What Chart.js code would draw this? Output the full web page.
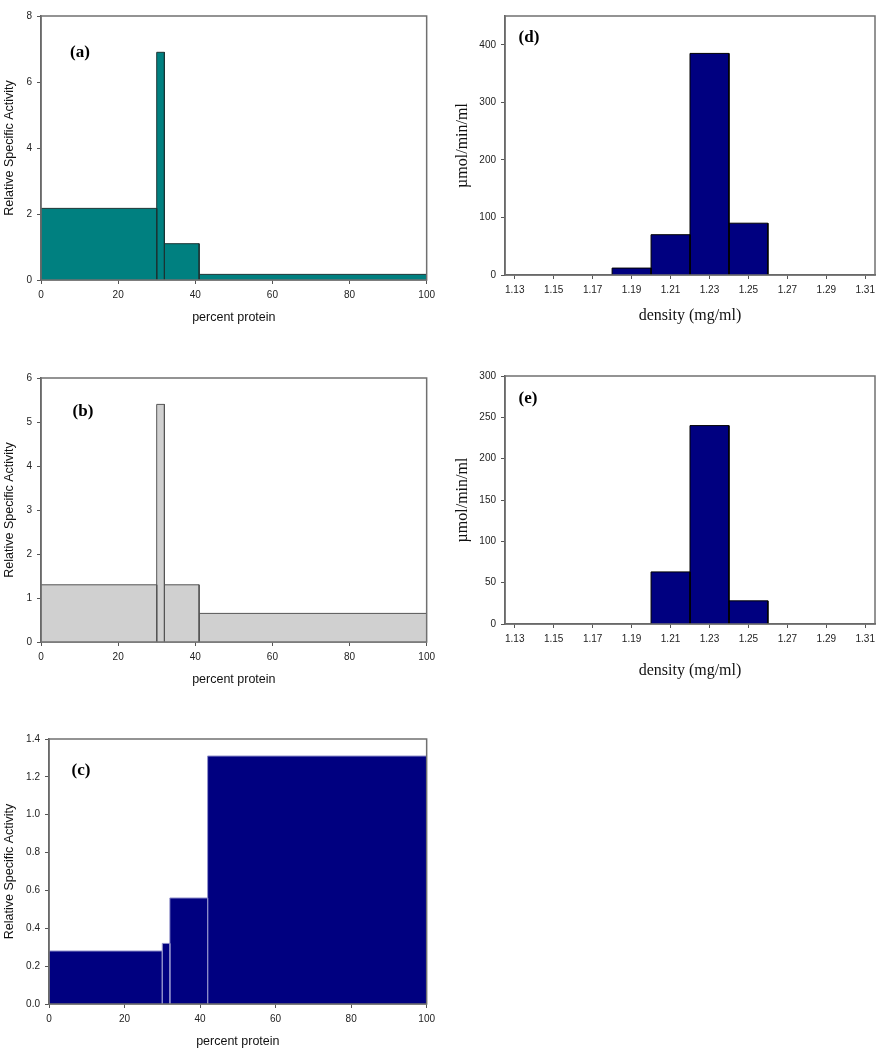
<!DOCTYPE html>
<html>
<head>
<meta charset="utf-8">
<script src="https://cdn.jsdelivr.net/npm/chart.js@4/dist/chart.umd.min.js"></script>
<style>
  body { margin: 0; background: #fff; }
  #page { position: relative; width: 883px; height: 1050px; }
  canvas { position: absolute; }
</style>
</head>
<body>
<div id="page">
  <canvas id="chartA" style="left:0;top:0"></canvas>
  <canvas id="chartB" style="left:0;top:330px"></canvas>
  <canvas id="chartC" style="left:0;top:690px"></canvas>
  <canvas id="chartD" style="left:440px;top:0"></canvas>
  <canvas id="chartE" style="left:440px;top:330px"></canvas>
</div>
<script>
// bin edges (percent protein) and relative specific activity
var edgesA = [0, 30, 32, 41, 100];
var activityA = [2.17, 6.9, 1.1, 0.17];
var edgesB = [0, 30, 32, 41, 100];
var activityB = [1.3, 5.4, 1.3, 0.65];
var edgesC = [0, 30, 32, 42, 100];
var activityC = [0.28, 0.32, 0.56, 1.31];

// density bins (mg/ml) and activity (umol/min/ml)
var densityEdgesD = [1.18, 1.20, 1.22, 1.24, 1.26];
var activityD = [12, 70, 385, 90];
var densityEdgesE = [1.20, 1.22, 1.24, 1.26];
var activityE = [63, 240, 28];
var densityTicks = [1.13, 1.15, 1.17, 1.19, 1.21, 1.23, 1.25, 1.27, 1.29, 1.31];

var sans = "'Liberation Sans', Arial, sans-serif";
var serif = "'Liberation Serif', 'Times New Roman', serif";

// one filled rectangle per bin, drawn as a closed line through the scales
function binDatasets(edges, values, fillColor, lineColor) {
    var sets = [];
    for (var i = 0; i < values.length; i++) {
        sets.push({
            data: [
                {x: edges[i], y: 0}, {x: edges[i], y: values[i]},
                {x: edges[i + 1], y: values[i]}, {x: edges[i + 1], y: 0}
            ],
            showLine: true,
            fill: 'origin',
            backgroundColor: fillColor,
            borderColor: lineColor,
            borderWidth: 1,
            pointRadius: 0,
            tension: 0
        });
    }
    return sets;
}

var framePlugin = {
    id: 'frame',
    afterDatasetsDraw: function(chart) {
        var a = chart.chartArea, ctx = chart.ctx;
        ctx.save();
        ctx.strokeStyle = '#707070';
        ctx.lineWidth = 1.5;
        ctx.strokeRect(a.left, a.top, a.right - a.left, a.bottom - a.top);
        var p = chart.options.plugins.panelLabel;
        ctx.fillStyle = '#000';
        ctx.font = 'bold 17px ' + serif;
        ctx.textAlign = 'center';
        ctx.textBaseline = 'middle';
        ctx.fillText(p.text, a.left + p.dx, a.top + p.dy);
        ctx.restore();
    }
};

function axisStyle() {
    return {
        grid: { drawOnChartArea: false, drawTicks: true, tickLength: 4, color: '#555' },
        border: { display: true, color: '#555', width: 1.5 }
    };
}

function makePanel(id, w, h, cfg) {
    var canvas = document.getElementById(id);
    canvas.style.width = w + 'px';
    canvas.style.height = h + 'px';
    canvas.width = w;
    canvas.height = h;
    var xs = axisStyle(), ys = axisStyle();
    xs.type = 'linear';
    xs.min = cfg.xMin; xs.max = cfg.xMax;
    xs.ticks = { font: { family: sans, size: 10 }, color: '#222', padding: 5, maxRotation: 0 };
    if (cfg.xTicks) {
        xs.afterBuildTicks = function(s) { s.ticks = cfg.xTicks.map(function(v) { return {value: v}; }); };
        xs.ticks.callback = function(v) { return v.toFixed(2); };
    } else {
        xs.ticks.stepSize = cfg.xStep;
    }
    xs.title = { display: true, text: cfg.xTitle, color: '#111',
                 font: { family: cfg.titleFont, size: cfg.titleSize }, padding: { top: 0, bottom: cfg.xTitlePad } };
    xs.afterFit = function(s) { s.height = cfg.xHeight; };

    ys.min = 0; ys.max = cfg.yMax;
    ys.ticks = { stepSize: cfg.yStep, includeBounds: false, font: { family: sans, size: 10 }, color: '#222', padding: 5,
                 callback: function(v) { return cfg.yDec ? v.toFixed(cfg.yDec) : v; } };
    ys.title = { display: true, text: cfg.yTitle, color: '#111',
                 font: { family: cfg.titleFont, size: cfg.titleSize }, padding: { top: cfg.yTitlePad, bottom: 0 } };
    ys.afterFit = function(s) { s.width = cfg.yWidth; };

    new Chart(canvas, {
        type: 'scatter',
        data: { datasets: binDatasets(cfg.edges, cfg.values, cfg.fill, cfg.line) },
        options: {
            responsive: false,
            animation: false,
            layout: { padding: { top: cfg.padTop, right: cfg.padRight, left: 0, bottom: 0 } },
            scales: { x: xs, y: ys },
            plugins: {
                legend: { display: false },
                tooltip: { enabled: false },
                panelLabel: cfg.label
            }
        },
        plugins: [framePlugin]
    });
}

makePanel('chartA', 440, 330, {
    edges: edgesA, values: activityA, fill: '#008080', line: '#1c3434',
    xMin: 0, xMax: 100, xStep: 20, yMax: 8, yStep: 2,
    xTitle: 'percent protein', yTitle: 'Relative Specific Activity', titleFont: sans, titleSize: 12.5,
    xHeight: 50, xTitlePad: 5, yWidth: 41, yTitlePad: 2, padTop: 16, padRight: 13,
    label: { text: '(a)', dx: 39, dy: 37 }
});

makePanel('chartB', 440, 360, {
    edges: edgesB, values: activityB, fill: '#d0d0d0', line: '#555',
    xMin: 0, xMax: 100, xStep: 20, yMax: 6, yStep: 1,
    xTitle: 'percent protein', yTitle: 'Relative Specific Activity', titleFont: sans, titleSize: 12.5,
    xHeight: 48, xTitlePad: 3, yWidth: 41, yTitlePad: 2, padTop: 48, padRight: 13,
    label: { text: '(b)', dx: 42, dy: 34 }
});

makePanel('chartC', 440, 360, {
    edges: edgesC, values: activityC, fill: '#000080', line: '#8c8cc8',
    xMin: 0, xMax: 100, xStep: 20, yMax: 1.4, yStep: 0.2, yDec: 1,
    xTitle: 'percent protein', yTitle: 'Relative Specific Activity', titleFont: sans, titleSize: 12.5,
    xHeight: 46, xTitlePad: 1, yWidth: 49, yTitlePad: 2, padTop: 49, padRight: 13,
    label: { text: '(c)', dx: 32, dy: 32 }
});

makePanel('chartD', 443, 330, {
    edges: densityEdgesD, values: activityD, fill: '#000080', line: '#000',
    xMin: 1.125, xMax: 1.315, xTicks: densityTicks, yMax: 450, yStep: 100,
    xTitle: 'density (mg/ml)', yTitle: 'µmol/min/ml', titleFont: serif, titleSize: 16,
    xHeight: 55, xTitlePad: 5, yWidth: 65, yTitlePad: 13, padTop: 16, padRight: 8,
    label: { text: '(d)', dx: 24, dy: 22 }
});

makePanel('chartE', 443, 360, {
    edges: densityEdgesE, values: activityE, fill: '#000080', line: '#000',
    xMin: 1.125, xMax: 1.315, xTicks: densityTicks, yMax: 300, yStep: 50,
    xTitle: 'density (mg/ml)', yTitle: 'µmol/min/ml', titleFont: serif, titleSize: 16,
    xHeight: 66, xTitlePad: 10, yWidth: 65, yTitlePad: 13, padTop: 46, padRight: 8,
    label: { text: '(e)', dx: 23, dy: 23 }
});
</script>
</body>
</html>
